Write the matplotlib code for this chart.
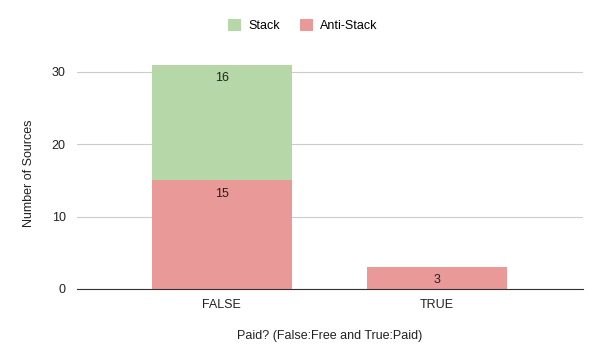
import matplotlib.pyplot as plt
import numpy as np

categories = ["FALSE", "TRUE"]
anti_stack = [15, 3]
stack = [16, 0]

plt.rcParams['font.family'] = ['Liberation Sans', 'DejaVu Sans']

fig = plt.figure(figsize=(6, 3.59), dpi=100)
ax = fig.add_axes([0.128, 0.195, 0.844, 0.645])

x = np.arange(len(categories))
w = 0.651
b1 = ax.bar(x, anti_stack, w, color="#ea9999", label="Anti-Stack", zorder=2)
b2 = ax.bar(x, stack, w, bottom=anti_stack, color="#b6d7a8", label="Stack", zorder=2)

# value labels just inside the top of each segment
for bars, bottoms, vals in [(b1, [0, 0], anti_stack), (b2, anti_stack, stack)]:
    for xi, b, v in zip(x, bottoms, vals):
        if v == 0:
            continue
        ax.annotate(str(v), (xi, b + v), xytext=(0, -9.5), textcoords="offset points",
                    ha="center", va="center", fontsize=9, color="#222222", zorder=3)

ax.set_xlim(-0.674, 1.679)
ax.set_ylim(0, 32)
ax.set_yticks([0, 10, 20, 30])
ax.set_xticks(x)
ax.set_xticklabels(categories)
ax.yaxis.grid(True, color="#cccccc", linewidth=0.8, zorder=0)
for s in ["top", "right", "left"]:
    ax.spines[s].set_visible(False)
ax.spines["bottom"].set_color("#333333")
ax.spines["bottom"].set_zorder(4)
ax.tick_params(axis="both", length=0, labelsize=9, colors="#222222")
ax.tick_params(axis="x", pad=7)
ax.tick_params(axis="y", pad=8)

ax.set_xlabel("Paid? (False:Free and True:Paid)", fontsize=9, color="#222222", labelpad=14)
ax.set_ylabel("Number of Sources", fontsize=9, color="#222222", labelpad=12)

handles = [b2, b1]
fig.legend(handles, ["Stack", "Anti-Stack"], loc="center", bbox_to_anchor=(0.505, 0.928),
           ncol=2, frameon=False, fontsize=9, handlelength=1.0, handleheight=1.0,
           columnspacing=1.6, handletextpad=0.6)

fig.savefig("out.png", dpi=100)
